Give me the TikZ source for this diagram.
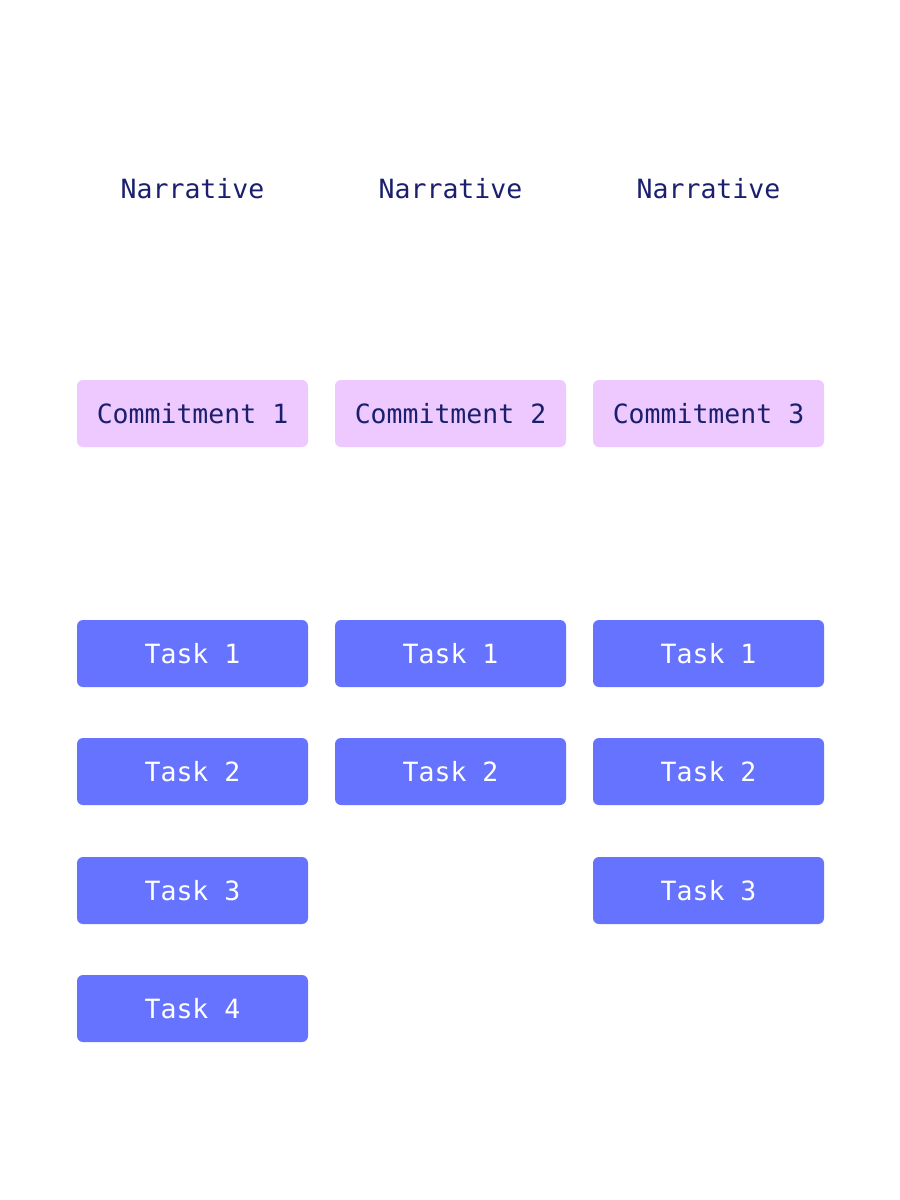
\documentclass[tikz,border=0pt]{standalone}
\usepackage{fontspec}
\setmonofont{DejaVu Sans Mono}
\definecolor{navy}{HTML}{1B1F6E}
\definecolor{lilac}{HTML}{EDC9FF}
\definecolor{taskblue}{HTML}{6673FF}
\begin{document}
\begin{tikzpicture}[x=1pt,y=-1pt,
  base/.style={rounded corners=6pt, minimum width=231pt, minimum height=67pt, inner sep=0pt, font=\ttfamily\fontsize{26.5}{30}\selectfont},
  narr/.style={base, fill=white, text=navy},
  commit/.style={base, fill=lilac, text=navy},
  taskbox/.style={base, fill=taskblue, text=white}]
\useasboundingbox (0,0) rectangle (900,1200);
\fill[white] (0,0) rectangle (900,1200);
\foreach \c/\x in {1/192.5,2/450.5,3/708.5}{
  \node[narr] (n\c) at (\x,189) {Narrative};
  \node[commit] (c\c) at (\x,413.5) {Commitment \c};
}
\node[taskbox] (t11) at (192.5,653.5) {Task 1};
\node[taskbox] (t12) at (192.5,771.5) {Task 2};
\node[taskbox] (t13) at (192.5,890.5) {Task 3};
\node[taskbox] (t14) at (192.5,1008.5) {Task 4};
\node[taskbox] (t21) at (450.5,653.5) {Task 1};
\node[taskbox] (t22) at (450.5,771.5) {Task 2};
\node[taskbox] (t31) at (708.5,653.5) {Task 1};
\node[taskbox] (t32) at (708.5,771.5) {Task 2};
\node[taskbox] (t33) at (708.5,890.5) {Task 3};
\end{tikzpicture}
\end{document}
